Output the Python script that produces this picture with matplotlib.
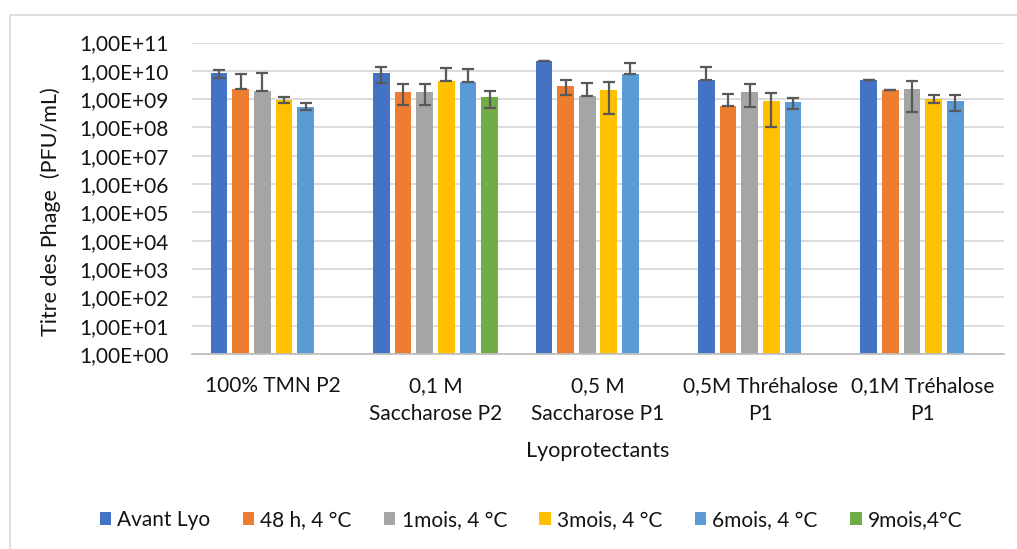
"""
Titre des phages apres lyophilisation selon le lyoprotectant
"""

### Import modules
import numpy as np
import matplotlib
matplotlib.use('Agg')
import matplotlib.pyplot as plt
from matplotlib.patches import Rectangle
from matplotlib.ticker import FixedLocator

### Categories and series
groups = ['100% TMN P2', '0,1 M\nSaccharose P2', '0,5 M\nSaccharose P1',
          '0,5M Thréhalose\nP1', '0,1M Tréhalose\nP1']
series = ['Avant Lyo', '48 h, 4 °C', '1mois, 4 °C', '3mois, 4 °C',
          '6mois, 4 °C', '9mois,4°C']
ytick_labels = ['1,00E+%02d' % i for i in range(12)]

### Titres (PFU/mL) par serie, un point par lyoprotectant
avant = [8.3e9, 8.3e9, 2.26e10, 4.7e9, 4.7e9]
h48 = [2.24e9, 1.86e9, 2.87e9, 5.5e8, 2.07e9]
m1 = [1.9e9, 1.86e9, 1.3e9, 1.86e9, 2.3e9]
m3 = [9.1e8, 4.3e9, 2.02e9, 8.4e8, 1.02e9]
m6 = [5.3e8, 3.97e9, 7.6e9, 7.8e8, 8.4e8]
m9 = [np.nan, 1.23e9, np.nan, np.nan, np.nan]

### Bornes hautes des barres d'erreur
avant_hi = [1.09e10, 1.39e10, 2.26e10, 1.32e10, 4.7e9]
h48_hi = [7.45e9, 3.45e9, 4.56e9, 1.53e9, 2.07e9]
m1_hi = [8.1e9, 3.4e9, 3.66e9, 3.37e9, 4.2e9]
m3_hi = [1.2e9, 1.25e10, 3.9e9, 1.66e9, 1.41e9]
m6_hi = [7.2e8, 1.12e10, 1.92e10, 1.13e9, 1.37e9]
m9_hi = [np.nan, 1.95e9, np.nan, np.nan, np.nan]

### Bornes basses des barres d'erreur
avant_lo = [5.6e9, 3.6e9, 2.26e10, 4.7e9, 4.7e9]
h48_lo = [2.24e9, 6.1e8, 1.38e9, 5.5e8, 2.07e9]
m1_lo = [1.9e9, 6.1e8, 1.3e9, 5.3e8, 3.5e8]
m3_lo = [7.2e8, 4.3e9, 3.0e8, 1.0e8, 7.3e8]
m6_lo = [4.04e8, 3.97e9, 7.6e9, 4.4e8, 3.8e8]
m9_lo = [np.nan, 4.7e8, np.nan, np.nan, np.nan]

values = [avant, h48, m1, m3, m6, m9]
highs = [avant_hi, h48_hi, m1_hi, m3_hi, m6_hi, m9_hi]
lows = [avant_lo, h48_lo, m1_lo, m3_lo, m6_lo, m9_lo]
colors = ['#4472C4', '#ED7D31', '#A5A5A5', '#FFC000', '#5B9BD5', '#70AD47']

###############################################################################
### Plot figure
plt.rc('font', family=['Lato', 'DejaVu Sans'])
textcolor = '#141414'

fig = plt.figure(figsize=(10.17, 5.49), dpi=100)
W, H = 1017., 549.
ax = fig.add_axes([192/W, 1 - 354/H, (1004 - 192)/W, (354 - 42.5)/H])

### Chart frame
fig.add_artist(Rectangle((10/W, -0.05), 1.1, 1 - 15/H + 0.05,
                         transform=fig.transFigure, fill=False,
                         edgecolor='#D9D9D9', linewidth=1.2, zorder=0))

x = np.arange(len(groups))
pitch = 0.1333
width = 0.103
for i in range(len(series)):
    val = np.array(values[i])
    hi = np.array(highs[i])
    lo = np.array(lows[i])
    pos = x + (i - 2.5)*pitch
    ax.bar(pos, val, width=width, color=colors[i], label=series[i],
           zorder=2)
    ax.errorbar(pos, val, yerr=[val - lo, hi - val], fmt='none',
                ecolor='#595959', elinewidth=1.6, capsize=4.3,
                capthick=1.6, zorder=3)

ax.set_yscale('log')
ax.set_ylim(1, 1e11)
ax.set_xlim(-0.5, 4.5)
ax.yaxis.set_major_locator(FixedLocator([10.**i for i in range(12)]))
ax.yaxis.set_minor_locator(FixedLocator([]))
ax.set_yticklabels(ytick_labels)
ax.set_xticks(x)
ax.set_xticklabels(groups, linespacing=1.5)

ax.grid(axis='y', color='#D9D9D9', linewidth=1.3, zorder=0)
ax.set_axisbelow(True)
for loc in ['top', 'right', 'left']:
    ax.spines[loc].set_visible(False)
ax.spines['bottom'].set_color('#BFBFBF')
ax.spines['bottom'].set_linewidth(1.3)
ax.tick_params(axis='both', length=0, labelsize=15, colors=textcolor)
ax.tick_params(axis='y', pad=17)
ax.tick_params(axis='x', pad=16)

ax.set_ylabel('Titre des Phage  (PFU/mL)', fontsize=15.5, color=textcolor)
ax.yaxis.set_label_coords(61/W, 1 - 212/H, transform=fig.transFigure)
ax.set_xlabel('Lyoprotectants', fontsize=15.5, color=textcolor)
ax.xaxis.set_label_coords(598/W, 1 - 441/H, transform=fig.transFigure)

fig.legend(loc='center', bbox_to_anchor=(531/W, 1 - 520/H), ncol=6,
           frameon=False, fontsize=15, handlelength=0.55, handleheight=0.55,
           handletextpad=0.3, columnspacing=1.55, labelcolor=textcolor)

plt.savefig('out.png', dpi=100)
